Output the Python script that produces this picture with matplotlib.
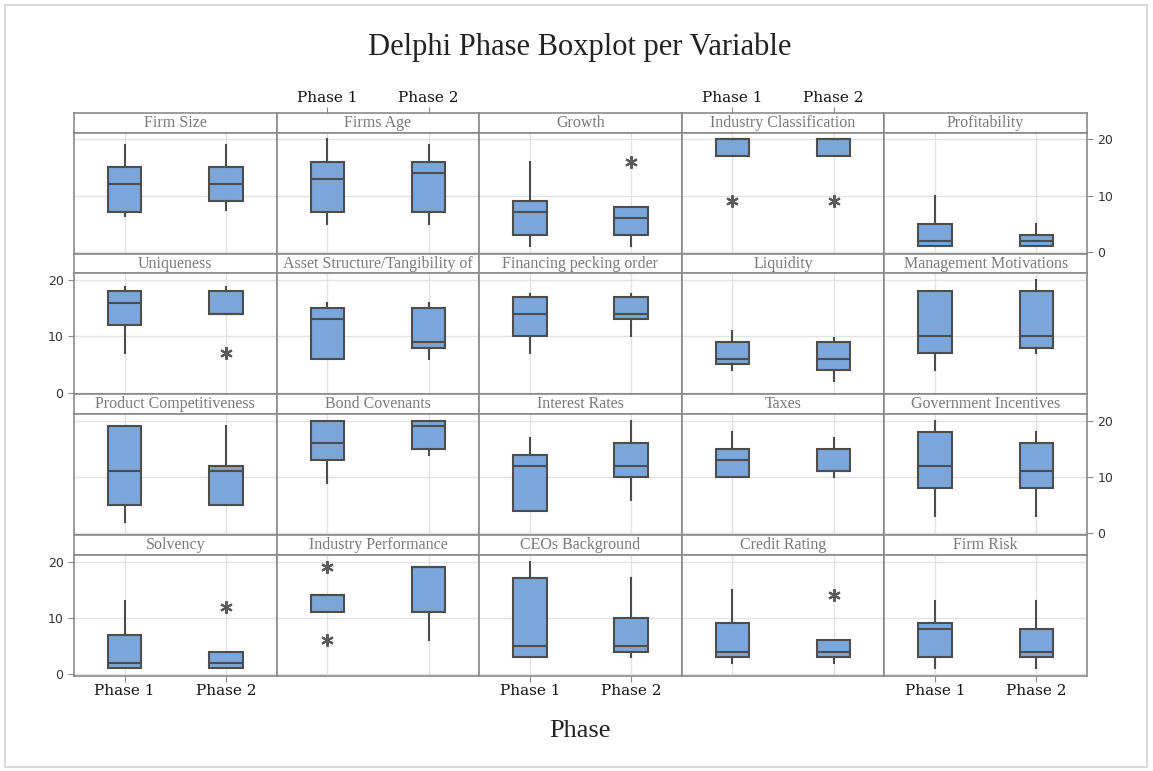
import matplotlib
matplotlib.use('Agg')
import matplotlib.pyplot as plt
from matplotlib.patches import Rectangle

# --- Data: five-number summaries ---
variables = [
    'Firm Size', 'Firms Age', 'Growth', 'Industry Classification', 'Profitability',
    'Uniqueness', 'Asset Structure/Tangibility of', 'Financing pecking order', 'Liquidity',
    'Management Motivations',
    'Product Competitiveness', 'Bond Covenants', 'Interest Rates', 'Taxes',
    'Government Incentives',
    'Solvency', 'Industry Performance', 'CEOs Background', 'Credit Rating', 'Firm Risk',
]
phases = ['Phase 1', 'Phase 2']

# (lower whisker, Q1, median, Q3, upper whisker)
phase1_stats = [
    (6.3, 7, 12, 15, 19), (5, 7, 13, 16, 20), (1, 3, 7, 9, 16), (17, 17, 20, 20, 20),
    (1, 1, 2, 5, 10),
    (7, 12, 16, 18, 18.7), (6, 6, 13, 15, 16), (7, 10, 14, 17, 17.6), (4, 5, 6, 9, 11),
    (4, 7, 10, 18, 18),
    (2, 5, 11, 19, 19), (9, 13, 16, 20, 20), (4, 4, 12, 14, 17), (10, 10, 13, 15, 18),
    (3, 8, 12, 18, 20),
    (1, 1, 2, 7, 13), (11, 11, 14, 14, 14), (3, 3, 5, 17, 20), (2, 3, 4, 9, 15),
    (1, 3, 8, 9, 13),
]
phase2_stats = [
    (7.5, 9, 12, 15, 19), (5, 7, 14, 16, 19), (1, 3, 6, 8, 8), (17, 17, 20, 20, 20),
    (1, 1, 2, 3, 5),
    (14, 14, 14, 18, 18.7), (6, 8, 9, 15, 16), (10, 13, 14, 17, 17.6), (2, 4, 6, 9, 9.7),
    (7, 8, 10, 18, 20),
    (5, 5, 11, 12, 19), (14, 15, 19, 20, 20), (6, 10, 12, 16, 20), (10, 11, 11, 15, 17),
    (3, 8, 11, 16, 18),
    (1, 1, 2, 4, 4), (6, 11, 19, 19, 19), (3, 4, 5, 10, 17), (2, 3, 4, 6, 6),
    (1, 3, 4, 8, 13),
]
phase1_outliers = [[], [], [], [9], [],
                   [], [], [], [], [],
                   [], [], [], [], [],
                   [], [19, 6], [], [], []]
phase2_outliers = [[], [], [16], [9], [],
                   [7], [], [], [], [],
                   [], [], [], [], [],
                   [12], [], [], [14], []]

# --- Layout (pixels) ---
W, H = 1153, 771
left0, right0 = 74, 1087
top0, bottom0 = 113, 676
ncol, nrow = 5, 4
col_w = (right0 - left0) / ncol
row_h = (bottom0 - top0) / nrow
strip_h = 19.5

frame_col = '#8a8a8a'
box_col = '#7aa6d9'
edge_col = '#4d4d4d'
grid_col = '#e3e3e3'

fig = plt.figure(figsize=(W / 100, H / 100), dpi=100)
fig.patches.append(Rectangle((5 / W, 4 / H), 1142 / W, 762 / H, transform=fig.transFigure,
                             fill=False, edgecolor='#d9d9d9', linewidth=1.5))


def fig_rect(x, y, w, h):
    return [x / W, 1 - (y + h) / H, w / W, h / H]


def make_stats(s, fl):
    return dict(whislo=s[0], q1=s[1], med=s[2], q3=s[3], whishi=s[4], fliers=fl)


tick_font = dict(family='DejaVu Serif', size=11, color='#111111')

for i, name in enumerate(variables):
    r, c = divmod(i, ncol)
    x = left0 + c * col_w
    y = top0 + r * row_h

    # strip
    sax = fig.add_axes(fig_rect(x, y, col_w, strip_h))
    sax.set_xlim(0.5, 2.5)
    sax.set_ylim(0, 1)
    sax.set_yticks([])
    sax.text(1.5, 0.5, name, ha='center', va='center', color='#7a7a7a',
             family='Liberation Serif', fontsize=11.5)
    for sp in sax.spines.values():
        sp.set_color(frame_col)
        sp.set_linewidth(1.2)
    if r == 0 and c in (1, 3):
        sax.xaxis.tick_top()
        sax.set_xticks([1, 2])
        sax.set_xticklabels(phases, fontdict=tick_font)
        sax.tick_params(axis='x', length=4, color=frame_col, pad=2)
    else:
        sax.set_xticks([])

    # panel
    ax = fig.add_axes(fig_rect(x, y + strip_h, col_w, row_h - strip_h))
    ax.set_xlim(0.5, 2.5)
    ax.set_ylim(-0.35, 21.2)
    ax.set_axisbelow(True)
    ax.grid(True, color=grid_col, linewidth=1)
    stats = [make_stats(phase1_stats[i], phase1_outliers[i]),
             make_stats(phase2_stats[i], phase2_outliers[i])]
    ax.bxp(stats, positions=[1, 2], widths=0.33, patch_artist=True, showcaps=False,
           boxprops=dict(facecolor=box_col, edgecolor=edge_col, linewidth=1.5),
           medianprops=dict(color=edge_col, linewidth=1.5),
           whiskerprops=dict(color=edge_col, linewidth=1.5),
           flierprops=dict(marker=(6, 2, 0), markersize=9, markeredgecolor='#5a5a5a',
                           markeredgewidth=1.5, linestyle='none'))
    for sp in ax.spines.values():
        sp.set_color(frame_col)
        sp.set_linewidth(1.2)

    ax.set_yticks([0, 10, 20])
    if r in (0, 2) and c == ncol - 1:
        ax.yaxis.tick_right()
        ax.tick_params(axis='y', length=4, color=frame_col, labelsize=9,
                       labelcolor='#333333')
    elif r in (1, 3) and c == 0:
        ax.tick_params(axis='y', length=4, color=frame_col, labelsize=9,
                       labelcolor='#333333')
    else:
        ax.tick_params(axis='y', length=0, labelleft=False, labelright=False)

    ax.set_xticks([1, 2])
    if r == nrow - 1 and c in (0, 2, 4):
        ax.set_xticklabels(phases, fontdict=tick_font)
        ax.tick_params(axis='x', length=4, color=frame_col, pad=2)
    else:
        ax.tick_params(axis='x', length=0, labelbottom=False)

fig.text(580 / W, 1 - 47 / H, 'Delphi Phase Boxplot per Variable', ha='center', va='center',
         family='Liberation Serif', fontsize=22, color='#222222')
fig.text(580 / W, 1 - 731 / H, 'Phase', ha='center', va='center',
         family='Liberation Serif', fontsize=19, color='#222222')

fig.savefig('out.png', dpi=100)
